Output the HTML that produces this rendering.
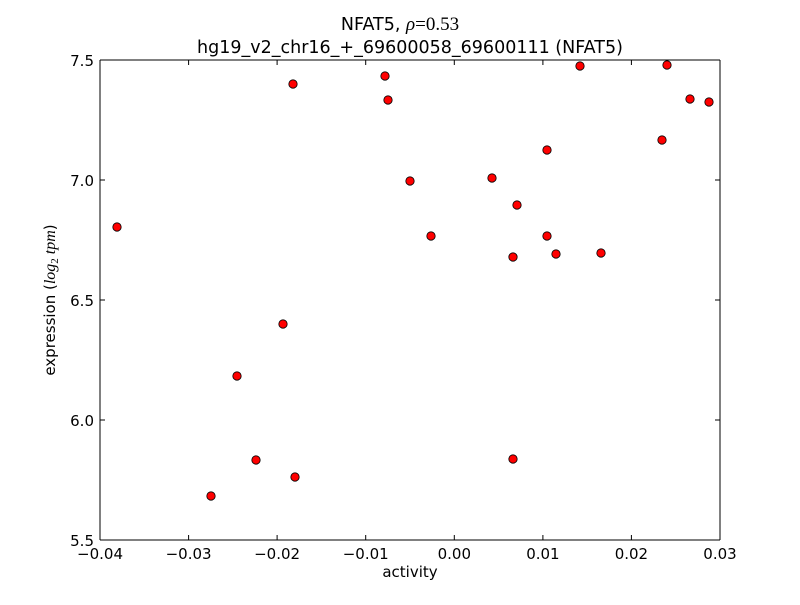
<!DOCTYPE html>
<html><head><meta charset="utf-8"><style>
body{margin:0;background:#fff}
text{font-family:"DejaVu Sans","Liberation Sans",sans-serif;fill:#000}
</style></head><body>
<svg width="800" height="600" xmlns="http://www.w3.org/2000/svg">
<rect width="800" height="600" fill="#fff"/>
<text x="400" y="30" font-size="17.5" text-anchor="middle">NFAT5, <tspan font-family="Liberation Serif" font-style="italic" font-size="19">ρ</tspan><tspan font-family="Liberation Serif" font-size="19">=0.53</tspan></text>
<text x="410" y="53" font-size="17.5" text-anchor="middle">hg19_v2_chr16_+_69600058_69600111 (NFAT5)</text>
<g stroke="#000" stroke-width="1">
<line x1="100" y1="60" x2="100" y2="540"/><line x1="720" y1="60" x2="720" y2="540"/>
<line x1="100" y1="60" x2="720" y2="60"/><line x1="100" y1="540" x2="720" y2="540"/>
<line x1="100" y1="540" x2="100" y2="535"/><line x1="100" y1="60" x2="100" y2="65"/>
<line x1="188.6" y1="540" x2="188.6" y2="535"/><line x1="188.6" y1="60" x2="188.6" y2="65"/>
<line x1="277.1" y1="540" x2="277.1" y2="535"/><line x1="277.1" y1="60" x2="277.1" y2="65"/>
<line x1="365.7" y1="540" x2="365.7" y2="535"/><line x1="365.7" y1="60" x2="365.7" y2="65"/>
<line x1="454.3" y1="540" x2="454.3" y2="535"/><line x1="454.3" y1="60" x2="454.3" y2="65"/>
<line x1="542.9" y1="540" x2="542.9" y2="535"/><line x1="542.9" y1="60" x2="542.9" y2="65"/>
<line x1="631.4" y1="540" x2="631.4" y2="535"/><line x1="631.4" y1="60" x2="631.4" y2="65"/>
<line x1="100" y1="180" x2="105" y2="180"/><line x1="720" y1="180" x2="715" y2="180"/>
<line x1="100" y1="300" x2="105" y2="300"/><line x1="720" y1="300" x2="715" y2="300"/>
<line x1="100" y1="420" x2="105" y2="420"/><line x1="720" y1="420" x2="715" y2="420"/>
</g>
<g font-size="15" text-anchor="middle">
<text x="100" y="559">−0.04</text><text x="188.6" y="559">−0.03</text><text x="277.1" y="559">−0.02</text>
<text x="365.7" y="559">−0.01</text><text x="454.3" y="559">0.00</text><text x="542.9" y="559">0.01</text>
<text x="631.4" y="559">0.02</text><text x="720" y="559">0.03</text>
</g>
<g font-size="15" text-anchor="end">
<text x="94" y="66">7.5</text><text x="94" y="186">7.0</text><text x="94" y="306">6.5</text>
<text x="94" y="426">6.0</text><text x="94" y="546">5.5</text>
</g>
<text x="410" y="577" font-size="15" text-anchor="middle">activity</text>
<text transform="translate(55,300) rotate(-90)" font-size="15" text-anchor="middle">expression (<tspan font-family="Liberation Serif" font-style="italic" font-size="16">log</tspan><tspan font-size="11" font-family="Liberation Serif" dy="3">2</tspan><tspan font-family="Liberation Serif" font-style="italic" font-size="16" dy="-3"> tpm</tspan>)</text>
<g fill="#ff0000" stroke="#000" stroke-width="0.8">
<circle cx="117" cy="227" r="4.2"/><circle cx="211" cy="496" r="4.2"/><circle cx="237" cy="376" r="4.2"/>
<circle cx="256" cy="460" r="4.2"/><circle cx="283" cy="324" r="4.2"/><circle cx="293" cy="84" r="4.2"/>
<circle cx="295" cy="477" r="4.2"/><circle cx="385" cy="76" r="4.2"/><circle cx="388" cy="100" r="4.2"/>
<circle cx="410" cy="181" r="4.2"/><circle cx="431" cy="236" r="4.2"/><circle cx="492" cy="178" r="4.2"/>
<circle cx="513" cy="257" r="4.2"/><circle cx="513" cy="459" r="4.2"/><circle cx="517" cy="205" r="4.2"/>
<circle cx="547" cy="150" r="4.2"/><circle cx="547" cy="236" r="4.2"/><circle cx="556" cy="254" r="4.2"/>
<circle cx="580" cy="66" r="4.2"/><circle cx="601" cy="253" r="4.2"/><circle cx="662" cy="140" r="4.2"/>
<circle cx="667" cy="65" r="4.2"/><circle cx="690" cy="99" r="4.2"/><circle cx="709" cy="102" r="4.2"/>
</g>
</svg>
</body></html>
